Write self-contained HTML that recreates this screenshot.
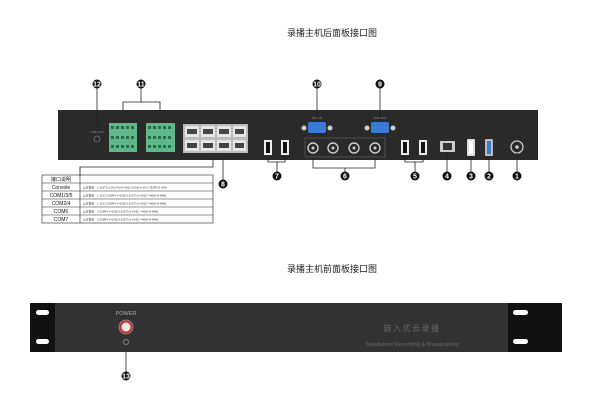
<!DOCTYPE html>
<html><head><meta charset="utf-8"><style>
html,body{margin:0;padding:0;background:#fff;}
svg{display:block;font-family:"Liberation Sans","Noto Sans CJK SC",sans-serif;}
</style></head><body>
<svg width="600" height="405" viewBox="0 0 600 405" xmlns="http://www.w3.org/2000/svg">
<rect width="600" height="405" fill="#fff"/>
<text x="332" y="36" font-size="9" text-anchor="middle" fill="#222">录播主机后面板接口图</text>
<text x="332" y="272" font-size="9" text-anchor="middle" fill="#222">录播主机前面板接口图</text>

<rect x="58" y="110" width="480" height="50" fill="#2a2a2a"/>
<circle cx="97" cy="139" r="3" fill="none" stroke="#777" stroke-width="0.8"/>
<text x="97" y="133" font-size="3" fill="#888" text-anchor="middle">LINE OUT</text>
<g fill="#5fb88a">
<rect x="109" y="123" width="28" height="29"/><rect x="146" y="123" width="29" height="29"/>
</g>
<g fill="#2e6b4a">
<rect x="111" y="126" width="3" height="3"/><rect x="116" y="126" width="3" height="3"/><rect x="121" y="126" width="3" height="3"/><rect x="126" y="126" width="3" height="3"/><rect x="131" y="126" width="3" height="3"/>
<rect x="111" y="136" width="3" height="3"/><rect x="116" y="136" width="3" height="3"/><rect x="121" y="136" width="3" height="3"/><rect x="126" y="136" width="3" height="3"/><rect x="131" y="136" width="3" height="3"/>
<rect x="111" y="145" width="3" height="3"/><rect x="116" y="145" width="3" height="3"/><rect x="121" y="145" width="3" height="3"/><rect x="126" y="145" width="3" height="3"/><rect x="131" y="145" width="3" height="3"/>
<rect x="148" y="126" width="3" height="3"/><rect x="153" y="126" width="3" height="3"/><rect x="158" y="126" width="3" height="3"/><rect x="163" y="126" width="3" height="3"/><rect x="168" y="126" width="3" height="3"/>
<rect x="148" y="136" width="3" height="3"/><rect x="153" y="136" width="3" height="3"/><rect x="158" y="136" width="3" height="3"/><rect x="163" y="136" width="3" height="3"/><rect x="168" y="136" width="3" height="3"/>
<rect x="148" y="145" width="3" height="3"/><rect x="153" y="145" width="3" height="3"/><rect x="158" y="145" width="3" height="3"/><rect x="163" y="145" width="3" height="3"/><rect x="168" y="145" width="3" height="3"/>
</g>
<rect x="183" y="124" width="65" height="29" fill="#bbb"/>
<g fill="#e6e6e6">
<rect x="185" y="126" width="14" height="11"/><rect x="201" y="126" width="14" height="11"/><rect x="217" y="126" width="14" height="11"/><rect x="233" y="126" width="13" height="11"/>
<rect x="185" y="140" width="14" height="11"/><rect x="201" y="140" width="14" height="11"/><rect x="217" y="140" width="14" height="11"/><rect x="233" y="140" width="13" height="11"/>
</g>
<g fill="#444">
<rect x="187" y="129" width="10" height="5"/><rect x="203" y="129" width="10" height="5"/><rect x="219" y="129" width="10" height="5"/><rect x="235" y="129" width="9" height="5"/>
<rect x="187" y="143" width="10" height="5"/><rect x="203" y="143" width="10" height="5"/><rect x="219" y="143" width="10" height="5"/><rect x="235" y="143" width="9" height="5"/>
</g>
<circle cx="304" cy="128" r="2.5" fill="#ccc"/><circle cx="330" cy="128" r="2.5" fill="#ccc"/>
<rect x="308" y="122" width="18" height="11" rx="2" fill="#3a7bd5"/>
<circle cx="367" cy="128" r="2.5" fill="#ccc"/><circle cx="393" cy="128" r="2.5" fill="#ccc"/>
<rect x="371" y="122" width="18" height="11" rx="2" fill="#3a7bd5"/>
<text x="317" y="119" font-size="3" fill="#999" text-anchor="middle">VGA IN</text>
<text x="380" y="119" font-size="3" fill="#999" text-anchor="middle">VGA OUT</text>
<g fill="#eee"><rect x="264" y="140" width="8" height="15"/><rect x="281" y="140" width="8" height="15"/><rect x="401" y="140" width="8" height="15"/><rect x="419" y="140" width="8" height="15"/></g>
<g fill="#111"><rect x="266" y="142" width="4" height="11"/><rect x="283" y="142" width="4" height="11"/><rect x="403" y="142" width="4" height="11"/><rect x="421" y="142" width="4" height="11"/></g>
<rect x="305" y="138" width="80" height="19" fill="none" stroke="#666" stroke-width="0.6"/>
<g fill="none" stroke="#ccc" stroke-width="1.4"><circle cx="313" cy="148" r="5"/><circle cx="333" cy="148" r="5"/><circle cx="354" cy="148" r="5"/><circle cx="375" cy="148" r="5"/></g>
<g fill="#ccc"><circle cx="313" cy="148" r="1.5"/><circle cx="333" cy="148" r="1.5"/><circle cx="354" cy="148" r="1.5"/><circle cx="375" cy="148" r="1.5"/></g>
<rect x="440" y="141" width="15" height="11" fill="#ccc"/><rect x="443" y="143" width="9" height="7" fill="#333"/>
<rect x="467" y="139" width="8" height="17" rx="1" fill="#ddd"/><rect x="469" y="141" width="4" height="13" fill="#fff"/>
<rect x="485" y="139" width="8" height="17" rx="1" fill="#bbb"/><rect x="487" y="141" width="4" height="13" fill="#3a7bd5"/>
<circle cx="517" cy="147" r="6" fill="none" stroke="#ccc" stroke-width="1.3"/><circle cx="517" cy="147" r="1.8" fill="#ccc"/>

<g stroke="#222" stroke-width="0.8" fill="none">
<line x1="97" y1="88" x2="97" y2="126"/>
<polyline points="123,113 123,102 160,102 160,113"/><line x1="141" y1="88" x2="141" y2="102"/>
<polyline points="213,158 213,167 80,167 80,176"/>
<line x1="223" y1="158" x2="223" y2="180"/>
<polyline points="268,157 268,162 285,162 285,157"/><line x1="277" y1="162" x2="277" y2="172"/>
<polyline points="313,157 313,168 375,168 375,157"/><line x1="345" y1="168" x2="345" y2="172"/>
<polyline points="405,157 405,162 423,162 423,157"/><line x1="415" y1="162" x2="415" y2="172"/>
<line x1="447" y1="152" x2="447" y2="172"/>
<line x1="471" y1="156" x2="471" y2="172"/>
<line x1="489" y1="156" x2="489" y2="172"/>
<line x1="517" y1="153" x2="517" y2="172"/>
<line x1="317" y1="88" x2="317" y2="121"/>
<line x1="380" y1="88" x2="380" y2="121"/>
<line x1="126" y1="345" x2="126" y2="372"/>
</g>
<g font-size="7" font-weight="bold" text-anchor="middle" fill="#fff">
<circle cx="97" cy="84" r="4.5" fill="#111"/><text x="97" y="86.5">12</text>
<circle cx="141" cy="84" r="4.5" fill="#111"/><text x="141" y="86.5">11</text>
<circle cx="317" cy="84" r="4.5" fill="#111"/><text x="317" y="86.5">10</text>
<circle cx="380" cy="84" r="4.5" fill="#111"/><text x="380" y="86.5">9</text>
<circle cx="223" cy="184" r="4.5" fill="#111"/><text x="223" y="186.5">8</text>
<circle cx="277" cy="176" r="4.5" fill="#111"/><text x="277" y="178.5">7</text>
<circle cx="345" cy="176" r="4.5" fill="#111"/><text x="345" y="178.5">6</text>
<circle cx="415" cy="176" r="4.5" fill="#111"/><text x="415" y="178.5">5</text>
<circle cx="447" cy="176" r="4.5" fill="#111"/><text x="447" y="178.5">4</text>
<circle cx="471" cy="176" r="4.5" fill="#111"/><text x="471" y="178.5">3</text>
<circle cx="489" cy="176" r="4.5" fill="#111"/><text x="489" y="178.5">2</text>
<circle cx="517" cy="176" r="4.5" fill="#111"/><text x="517" y="178.5">1</text>
<circle cx="126" cy="376" r="4.5" fill="#111"/><text x="126" y="378.5">13</text>
</g>

<g stroke="#222" stroke-width="0.6" fill="none">
<rect x="42" y="175" width="171" height="48"/>
<line x1="80" y1="175" x2="80" y2="223"/>
<line x1="42" y1="183" x2="213" y2="183"/><line x1="42" y1="191" x2="213" y2="191"/><line x1="42" y1="199" x2="213" y2="199"/><line x1="42" y1="207" x2="213" y2="207"/><line x1="42" y1="215" x2="213" y2="215"/>
</g>
<g font-size="5" fill="#111" text-anchor="middle">
<text x="61" y="181">接口说明</text><text x="61" y="189">Console</text><text x="61" y="197">COM1/3/5</text><text x="61" y="205">COM2/4</text><text x="61" y="213">COM6</text><text x="61" y="221">COM7</text>
</g>
<g font-size="2.8" fill="#333">
<text x="83" y="188.5">从左至右：1-232TX,2-0V,3-0V,4-GND,5-GND,6-0V,7-232RX,8-GND</text>
<text x="83" y="196.5">从左至右：1-12V,2-232RX,4-GND,5-232TX,6-GND,7-485A,8-485B</text>
<text x="83" y="204.5">从左至右：1-12V,3-232RX,4-GND,5-232TX,6-GND,7-485A,8-485B</text>
<text x="83" y="212.5">从左至右：3-232RX,4-GND,5-232TX,6-GND,7-485A,8-485B</text>
<text x="83" y="220.5">从左至右：3-232RX,4-GND,5-232TX,6-GND,7-485A,8-485B</text>
</g>

<rect x="30" y="303" width="532" height="49" fill="#111"/>
<rect x="55" y="303" width="453" height="49" fill="#333"/>
<g fill="#fff">
<rect x="36" y="310" width="13" height="5" rx="2.5"/><rect x="36" y="339" width="13" height="5" rx="2.5"/>
<rect x="513" y="310" width="15" height="5" rx="2.5"/><rect x="513" y="339" width="15" height="5" rx="2.5"/>
</g>
<text x="126" y="315" font-size="5.5" fill="#aaa" text-anchor="middle">POWER</text>
<circle cx="126" cy="327" r="7" fill="#c33" stroke="#888" stroke-width="0.8"/>
<circle cx="126" cy="327" r="4.5" fill="#e8e8e8"/>
<circle cx="126" cy="342" r="2.5" fill="none" stroke="#999" stroke-width="0.7"/>
<text x="412" y="331" font-size="8" fill="#666" text-anchor="middle" letter-spacing="1.5">嵌入式云录播</text>
<text x="412" y="346" font-size="5.5" fill="#666" text-anchor="middle">Standalone Recording &amp; Broadcasting</text>
</svg>
</body></html>
